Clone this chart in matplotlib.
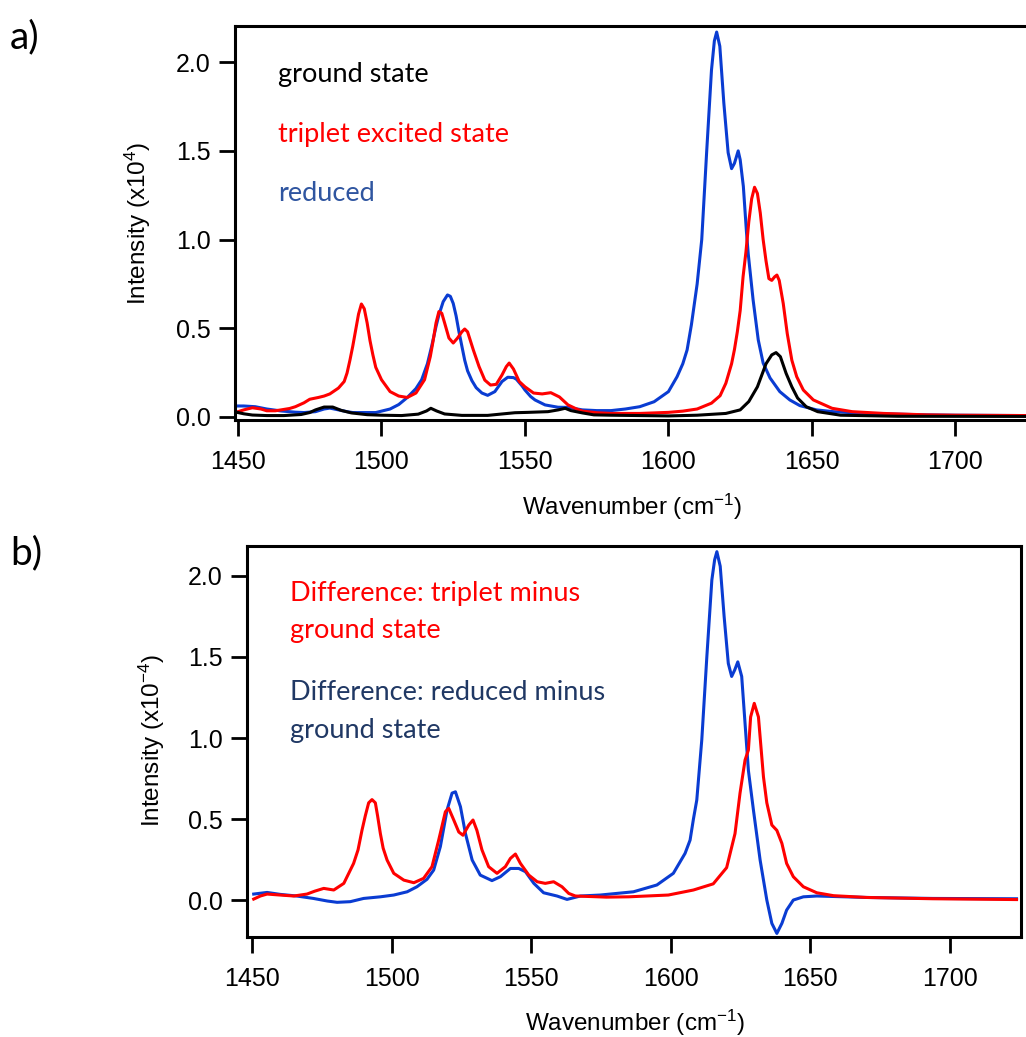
import matplotlib
matplotlib.use("Agg")
import matplotlib.pyplot as plt

plt.rcParams['font.family'] = ['Liberation Sans', 'DejaVu Sans']
plt.rcParams['mathtext.fontset'] = 'custom'
plt.rcParams['mathtext.rm'] = 'Liberation Sans'
plt.rcParams['mathtext.it'] = 'Liberation Sans:italic'

# ---------------- panel a data ----------------
tri_a_x = [1450, 1452, 1455, 1458, 1460, 1463, 1465, 1468, 1470, 1473, 1475, 1478, 1480, 1482, 1485, 1487,
           1488, 1489, 1490, 1491, 1492, 1493, 1494, 1495, 1496, 1497, 1498, 1500, 1503, 1506, 1509, 1512,
           1515, 1517, 1518, 1519, 1520, 1521, 1522, 1523.5, 1525, 1526.5, 1528, 1529, 1530, 1532, 1534,
           1536, 1538, 1540, 1542, 1543.5, 1544.5, 1546, 1548, 1550, 1553, 1556, 1559, 1562, 1565, 1568,
           1570, 1575, 1580, 1590, 1600, 1605, 1610, 1615, 1618, 1620, 1622, 1623, 1624, 1625, 1626, 1627,
           1628, 1629, 1630, 1631, 1632, 1633, 1634, 1635, 1636, 1637, 1637.8, 1638.6, 1640, 1641.4, 1643,
           1644.7, 1647, 1650.5, 1657, 1664, 1675, 1690, 1700, 1725]
tri_a_y = [0.03, 0.04, 0.052, 0.045, 0.035, 0.035, 0.04, 0.048, 0.058, 0.08, 0.1, 0.11, 0.118, 0.13, 0.163, 0.2,
           0.248, 0.32, 0.4, 0.49, 0.58, 0.637, 0.61, 0.53, 0.43, 0.35, 0.28, 0.21, 0.143, 0.118, 0.11, 0.135,
           0.21, 0.34, 0.43, 0.53, 0.594, 0.585, 0.53, 0.445, 0.417, 0.445, 0.48, 0.496, 0.48, 0.378, 0.284,
           0.208, 0.18, 0.184, 0.237, 0.284, 0.304, 0.27, 0.2, 0.17, 0.135, 0.13, 0.137, 0.113, 0.068, 0.045,
           0.033, 0.024, 0.02, 0.02, 0.026, 0.033, 0.045, 0.078, 0.12, 0.19, 0.3, 0.38, 0.48, 0.6, 0.79, 0.93,
           1.1, 1.23, 1.295, 1.26, 1.15, 1.0, 0.88, 0.78, 0.77, 0.79, 0.8, 0.77, 0.64, 0.47, 0.32,
           0.227, 0.152, 0.096, 0.049, 0.03, 0.02, 0.012, 0.01, 0.008]

red_a_x = [1450, 1452, 1456, 1460, 1465, 1470, 1473, 1477, 1480, 1482, 1485, 1488, 1490, 1498, 1503, 1506,
           1509, 1512, 1514, 1516, 1517.5, 1519, 1520, 1521.5, 1523, 1524, 1525, 1526, 1527, 1528, 1529,
           1530, 1531.5, 1533, 1535, 1537, 1539.5, 1542, 1544, 1546, 1547, 1549, 1550, 1552, 1553.5, 1557,
           1561.5, 1565, 1570, 1575, 1580, 1585, 1590, 1595, 1600, 1603, 1605, 1606.5, 1608, 1610, 1611.6,
           1613.3, 1615, 1616, 1616.8, 1617.9, 1619.3, 1620.8, 1622, 1623, 1624.3, 1625, 1626.1, 1627.2,
           1627.8, 1629.5, 1631.3, 1633, 1635.4, 1638.8, 1642.3, 1645.8, 1651.6, 1657.4, 1669, 1690, 1700, 1725]
red_a_y = [0.062, 0.062, 0.058, 0.045, 0.034, 0.027, 0.025, 0.03, 0.045, 0.05, 0.04, 0.03, 0.025, 0.025, 0.045, 0.07,
           0.11, 0.16, 0.21, 0.3, 0.4, 0.51, 0.575, 0.65, 0.688, 0.68, 0.64, 0.57, 0.48, 0.4, 0.32,
           0.26, 0.205, 0.165, 0.135, 0.122, 0.143, 0.2, 0.224, 0.222, 0.213, 0.175, 0.152, 0.115, 0.096, 0.068,
           0.055, 0.054, 0.04, 0.036, 0.036, 0.045, 0.058, 0.086, 0.143, 0.227, 0.3, 0.378, 0.52, 0.75, 1.0,
           1.49, 1.956, 2.12, 2.17, 2.09, 1.77, 1.49, 1.40, 1.43, 1.50, 1.45, 1.30, 1.04,
           0.92, 0.66, 0.434, 0.304, 0.22, 0.143, 0.096, 0.064, 0.04, 0.03, 0.02, 0.012, 0.01, 0.008]

gs_a_x = [1450, 1452, 1455, 1460, 1466, 1472, 1475, 1477, 1480, 1483, 1486, 1489.5, 1495, 1500, 1507, 1512.8,
          1515.7, 1517.2, 1519.2, 1522, 1528, 1537, 1542, 1546.5, 1551, 1558, 1561.6, 1564, 1566, 1570, 1574,
          1580, 1600, 1610, 1620, 1625, 1628, 1631, 1634, 1636, 1637.5, 1639, 1641, 1643, 1645, 1648, 1652,
          1660, 1680, 1725]
gs_a_y = [0.025, 0.018, 0.011, 0.008, 0.008, 0.014, 0.025, 0.04, 0.056, 0.056, 0.037, 0.023, 0.013, 0.01, 0.008, 0.016,
          0.034, 0.049, 0.034, 0.017, 0.009, 0.009, 0.017, 0.024, 0.026, 0.03, 0.04, 0.049, 0.036, 0.023, 0.012,
          0.01, 0.006, 0.01, 0.02, 0.04, 0.087, 0.17, 0.3, 0.35, 0.363, 0.34, 0.246, 0.17, 0.107, 0.058, 0.03,
          0.01, 0.004, 0.003]

# ---------------- panel b data ----------------
tri_b_x = [1450.6, 1453, 1455.4, 1460, 1465, 1469.7, 1472.5, 1475.7, 1479.3, 1482.9, 1486.4, 1488, 1489.4, 1490.6,
           1491.8, 1493, 1494.2, 1495, 1496, 1497, 1498.4, 1500.8, 1504.4, 1508, 1511.5, 1514.5, 1516.9, 1518,
           1519.3, 1520.5, 1522.3, 1524.1, 1525.6, 1527.7, 1529.2, 1530.6, 1532.4, 1534.8, 1537.8, 1540.8,
           1542.6, 1544.4, 1546.2, 1549.2, 1552.2, 1555.1, 1558.1, 1561.1, 1563.5, 1565.9, 1572.5, 1577, 1585,
           1599.2, 1608.2, 1615.3, 1620.1, 1623.1, 1624.9, 1626.7, 1627.9, 1628.7, 1630, 1631.5, 1633.3, 1634.5,
           1636.3, 1638.1, 1639.9, 1641.6, 1644, 1647.6, 1652.4, 1658.4, 1670.3, 1694, 1724]
tri_b_y = [0.006, 0.025, 0.037, 0.031, 0.025, 0.037, 0.055, 0.072, 0.062, 0.103, 0.226, 0.31, 0.43, 0.52,
           0.6, 0.62, 0.6, 0.52, 0.41, 0.32, 0.247, 0.165, 0.123, 0.107, 0.134, 0.206, 0.37, 0.45,
           0.545, 0.566, 0.494, 0.42, 0.40, 0.463, 0.494, 0.43, 0.31, 0.206, 0.165, 0.206,
           0.257, 0.284, 0.226, 0.154, 0.113, 0.103, 0.113, 0.082, 0.041, 0.025, 0.021, 0.018, 0.02,
           0.031, 0.062, 0.1, 0.2, 0.41, 0.66, 0.864, 0.926, 1.13, 1.214, 1.13, 0.76, 0.6,
           0.463, 0.43, 0.35, 0.226, 0.144, 0.082, 0.045, 0.027, 0.016, 0.008, 0.003]

red_b_x = [1450.6, 1455.4, 1460.1, 1466, 1472, 1477, 1480.5, 1485.2, 1490, 1496, 1500.8, 1505.6, 1509.1, 1512.7,
           1515.1, 1517.5, 1519.9, 1521.7, 1522.9, 1524.7, 1526.5, 1528.9, 1531.8, 1536, 1539, 1542.6, 1545.6,
           1548, 1551, 1554.5, 1559.3, 1562.9, 1567.7, 1574.8, 1586.7, 1595.1, 1601, 1605.2, 1607, 1608.2,
           1609.4, 1611.2, 1613, 1614.8, 1615.8, 1616.6, 1617.8, 1619.2, 1620.7, 1621.9, 1623, 1624.1, 1625.5,
           1626.7, 1627.9, 1629.7, 1632.1, 1634.5, 1636.3, 1638.1, 1639.9, 1641.6, 1644, 1647.6, 1652.4,
           1670.3, 1694, 1724]
red_b_y = [0.037, 0.047, 0.035, 0.025, 0.01, -0.006, -0.014, -0.01, 0.01, 0.02, 0.031, 0.051, 0.082, 0.128,
           0.185, 0.33, 0.556, 0.66, 0.668, 0.576, 0.41, 0.247, 0.154, 0.12, 0.144, 0.195, 0.195,
           0.175, 0.103, 0.045, 0.025, 0.004, 0.025, 0.031, 0.051, 0.093, 0.165, 0.288, 0.37, 0.5,
           0.617, 0.99, 1.5, 1.975, 2.1, 2.15, 2.06, 1.75, 1.46, 1.38, 1.42, 1.47, 1.38,
           1.09, 0.80, 0.556, 0.247, 0.0, -0.144, -0.206, -0.144, -0.062, 0.0, 0.02, 0.025,
           0.016, 0.01, 0.008]

x_ticks = [1450, 1500, 1550, 1600, 1650, 1700]
y_ticks = [0.0, 0.5, 1.0, 1.5, 2.0]

RED = '#ff0000'
BLUE = '#0a3cd2'
W, H = 1026, 1037
fig = plt.figure(figsize=(W / 100, H / 100), dpi=100)


def axes_px(l, t, r, b):
    return fig.add_axes([l / W, 1 - b / H, (r - l) / W, (b - t) / H])


def style(ax):
    for s in ax.spines.values():
        s.set_linewidth(2.2)
    ax.tick_params(direction='out', length=11.5, width=2.0, labelsize=18, pad=6)
    ax.tick_params(axis='x', pad=10)
    ax.set_xticks(x_ticks)
    ax.set_yticks(y_ticks)
    ax.set_yticklabels([f'{v:.1f}' for v in y_ticks])


LW = 2.2
# panel a
axa = axes_px(235, 26, 1026, 420)
axa.plot(red_a_x, red_a_y, color=BLUE, lw=LW, solid_joinstyle='round')
axa.plot(tri_a_x, tri_a_y, color=RED, lw=LW, solid_joinstyle='round')
axa.plot(gs_a_x, gs_a_y, color='black', lw=LW, solid_joinstyle='round')
axa.set_xlim(1448.95, 1724.6)
axa.set_ylim(-0.017, 2.204)
style(axa)
axa.spines['right'].set_visible(False)

# panel b
axb = axes_px(247, 546, 1021, 937)
axb.plot(red_b_x, red_b_y, color=BLUE, lw=LW, solid_joinstyle='round')
axb.plot(tri_b_x, tri_b_y, color=RED, lw=LW, solid_joinstyle='round')
axb.set_xlim(1448.2, 1725.6)
axb.set_ylim(-0.228, 2.185)
style(axb)


def ftext(x, y, s, **kw):
    return fig.text(x / W, 1 - y / H, s, **kw)


# axis labels
ftext(632, 507, r'Wavenumber (cm$^{\mathrm{-}1}$)', fontsize=17.5, ha='center', va='center')
ftext(635, 1023, r'Wavenumber (cm$^{\mathrm{-}1}$)', fontsize=17.5, ha='center', va='center')
ftext(138, 223, r'Intensity (x10$^{4}$)', fontsize=17.5, ha='center', va='center', rotation=90)
ftext(152, 741, r'Intensity (x10$^{-4}$)', fontsize=17.5, ha='center', va='center', rotation=90)

# panel letters
CAL = ['Lato', 'DejaVu Sans']
ftext(10, 48, 'a)', fontsize=28, family=CAL, ha='left', va='baseline')
ftext(10, 564, 'b)', fontsize=28, family=CAL, ha='left', va='baseline')

# annotations
ann = dict(fontsize=19.5, family=CAL, ha='left', va='baseline')
ftext(278, 82, 'ground state', color='black', **ann)
ftext(278, 142, 'triplet excited state', color=RED, **ann)
ftext(278, 201, 'reduced', color='#2f55a0', **ann)
ftext(290, 601, 'Difference: triplet minus', color=RED, **ann)
ftext(290, 638, 'ground state', color=RED, **ann)
ftext(290, 700, 'Difference: reduced minus', color='#203864', **ann)
ftext(290, 738, 'ground state', color='#203864', **ann)

fig.savefig('out.png', dpi=100)
